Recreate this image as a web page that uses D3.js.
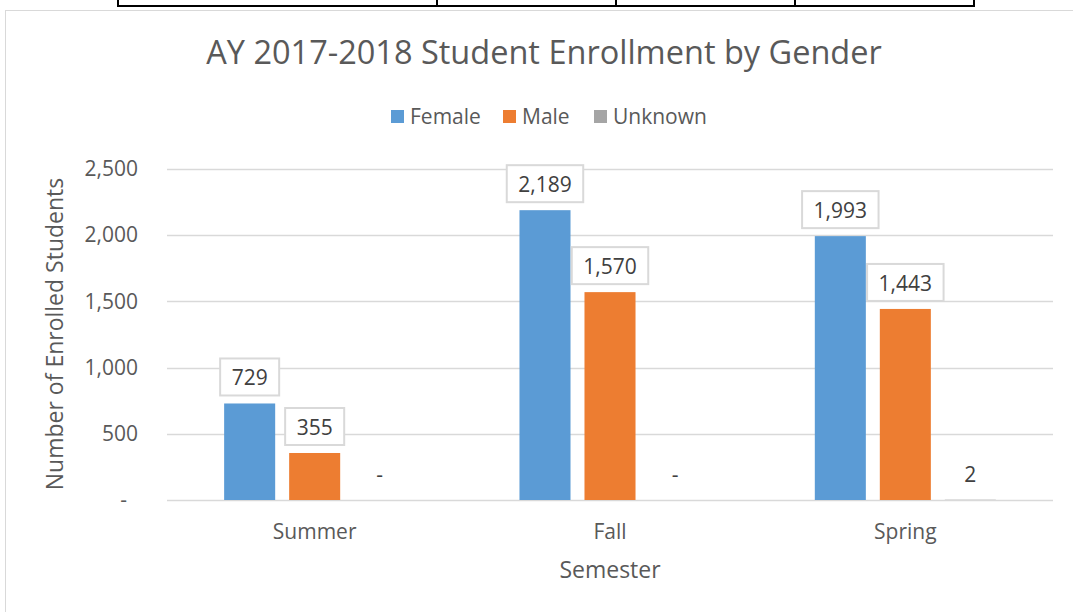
<!DOCTYPE html>
<html>
<head>
<meta charset="utf-8">
<script src="https://cdn.jsdelivr.net/npm/d3@7"></script>
<style>
  body { margin: 0; background: #fff; }
  svg { display: block; font-family: "Open Sans", sans-serif; }
</style>
</head>
<body>
<svg id="chart"></svg>
<script>
// 데이터
const semesters = ["Summer", "Fall", "Spring"];
const seriesNames = ["Female", "Male", "Unknown"];
const female = [729, 2189, 1993];
const male = [355, 1570, 1443];
const unknown = [0, 0, 2];
const yTicks = [0, 500, 1000, 1500, 2000, 2500];

const seriesValues = [female, male, unknown];
const colors = ["#5b9bd5", "#ed7d31", "#a5a5a5"];

const width = 1073, height = 612;
const plot = {left: 167, right: 1053, top: 169, bottom: 500};

const svg = d3.select("#chart").attr("width", width).attr("height", height);

// 위쪽 표 테두리
const tbl = svg.append("g").attr("stroke", "#000").attr("stroke-width", 2);
tbl.append("line").attr("x1", 117).attr("x2", 975).attr("y1", 6).attr("y2", 6);
[118, 437, 616, 795, 974].forEach(x => {
    tbl.append("line").attr("x1", x).attr("x2", x).attr("y1", 0).attr("y2", 6);
});

// 차트 영역 테두리
svg.append("rect")
    .attr("x", 5.5).attr("y", 10.5)
    .attr("width", 1100).attr("height", 700)
    .attr("fill", "#fff")
    .attr("stroke", "#d9d9d9");

// scale
const x0 = d3.scaleBand().domain(semesters).range([plot.left, plot.right]).padding(0);
const x1 = d3.scaleBand().domain(seriesNames).range([0, x0.bandwidth()])
    .paddingInner(0.215).paddingOuter(0.879);
const y = d3.scaleLinear().domain([0, 2500]).range([plot.bottom, plot.top]);

// gridline
svg.append("g")
    .selectAll("line.grid")
    .data(yTicks)
    .join("line")
    .attr("class", "grid")
    .attr("x1", plot.left).attr("x2", plot.right)
    .attr("y1", d => Math.round(y(d)) + 0.5)
    .attr("y2", d => Math.round(y(d)) + 0.5)
    .attr("stroke", "#d9d9d9")
    .attr("stroke-width", 1.3);

// y axis
const yAxis = svg.append("g")
    .attr("transform", `translate(${plot.left - 29}, 0)`)
    .call(d3.axisLeft(y).tickValues(yTicks).tickSize(0).tickPadding(0)
        .tickFormat(d => d === 0 ? "-" : d3.format(",")(d)));
yAxis.select(".domain").remove();
yAxis.selectAll("text")
    .attr("dx", d => d === 0 ? -11 : 0)
    .style("font-family", "Open Sans")
    .style("font-size", "21px")
    .style("fill", "#595959");

// x axis
const xAxis = svg.append("g")
    .attr("transform", `translate(0, ${plot.bottom})`)
    .call(d3.axisBottom(x0).tickSize(0).tickPadding(24));
xAxis.select(".domain").remove();
xAxis.selectAll("text")
    .style("font-family", "Open Sans")
    .style("font-size", "21px")
    .style("fill", "#595959");

// bars
const rows = semesters.map((s, i) => seriesNames.map((n, j) => ({semester: s, name: n, idx: j, value: seriesValues[j][i]})));
const groups = svg.append("g")
    .selectAll("g.group")
    .data(rows)
    .join("g")
    .attr("class", "group")
    .attr("transform", d => `translate(${x0(d[0].semester)}, 0)`);

groups.selectAll("rect.bar")
    .data(d => d)
    .join("rect")
    .attr("class", "bar")
    .attr("x", d => x1(d.name))
    .attr("y", d => y(d.value))
    .attr("width", x1.bandwidth())
    .attr("height", d => y(0) - y(d.value))
    .style("fill", d => colors[d.idx]);

// 데이터 라벨
const labels = groups.selectAll("g.label")
    .data(d => d)
    .join("g")
    .attr("class", "label")
    .attr("transform", d => `translate(${x1(d.name) + x1.bandwidth() / 2}, ${y(d.value) - 8})`);

labels.append("text")
    .attr("text-anchor", "middle")
    .attr("y", -10)
    .style("font-size", "21px")
    .style("fill", "#404040")
    .text(d => d.value === 0 ? "-" : d3.format(",")(d.value));

// Unknown 라벨은 테두리 없음
labels.filter(d => d.idx < 2).each(function() {
    const g = d3.select(this);
    const w = g.select("text").node().getComputedTextLength() + 23;
    g.insert("rect", "text")
        .attr("x", -w / 2)
        .attr("y", -37)
        .attr("width", w)
        .attr("height", 37)
        .attr("fill", "#fff")
        .attr("stroke", "#d9d9d9")
        .attr("stroke-width", 2);
});

// title
svg.append("text")
    .attr("x", 544)
    .attr("y", 63.5)
    .attr("text-anchor", "middle")
    .style("font-size", "32.5px")
    .style("fill", "#595959")
    .text("AY 2017-2018 Student Enrollment by Gender");

// legend
const legendX = [391, 503, 594];
const legend = svg.append("g")
    .selectAll("g.legend")
    .data(seriesNames)
    .join("g")
    .attr("class", "legend")
    .attr("transform", (d, i) => `translate(${legendX[i]}, 110)`);
legend.append("rect")
    .attr("width", 13).attr("height", 13)
    .style("fill", (d, i) => colors[i]);
legend.append("text")
    .attr("x", 19)
    .attr("y", 13.5)
    .style("font-size", "21px")
    .style("fill", "#595959")
    .text(d => d);

// axis titles
svg.append("text")
    .attr("transform", `translate(63, 334) rotate(-90)`)
    .attr("text-anchor", "middle")
    .style("font-size", "23px")
    .style("fill", "#595959")
    .text("Number of Enrolled Students");

svg.append("text")
    .attr("x", 610)
    .attr("y", 577.5)
    .attr("text-anchor", "middle")
    .style("font-size", "23px")
    .style("fill", "#595959")
    .text("Semester");
</script>
</body>
</html>
